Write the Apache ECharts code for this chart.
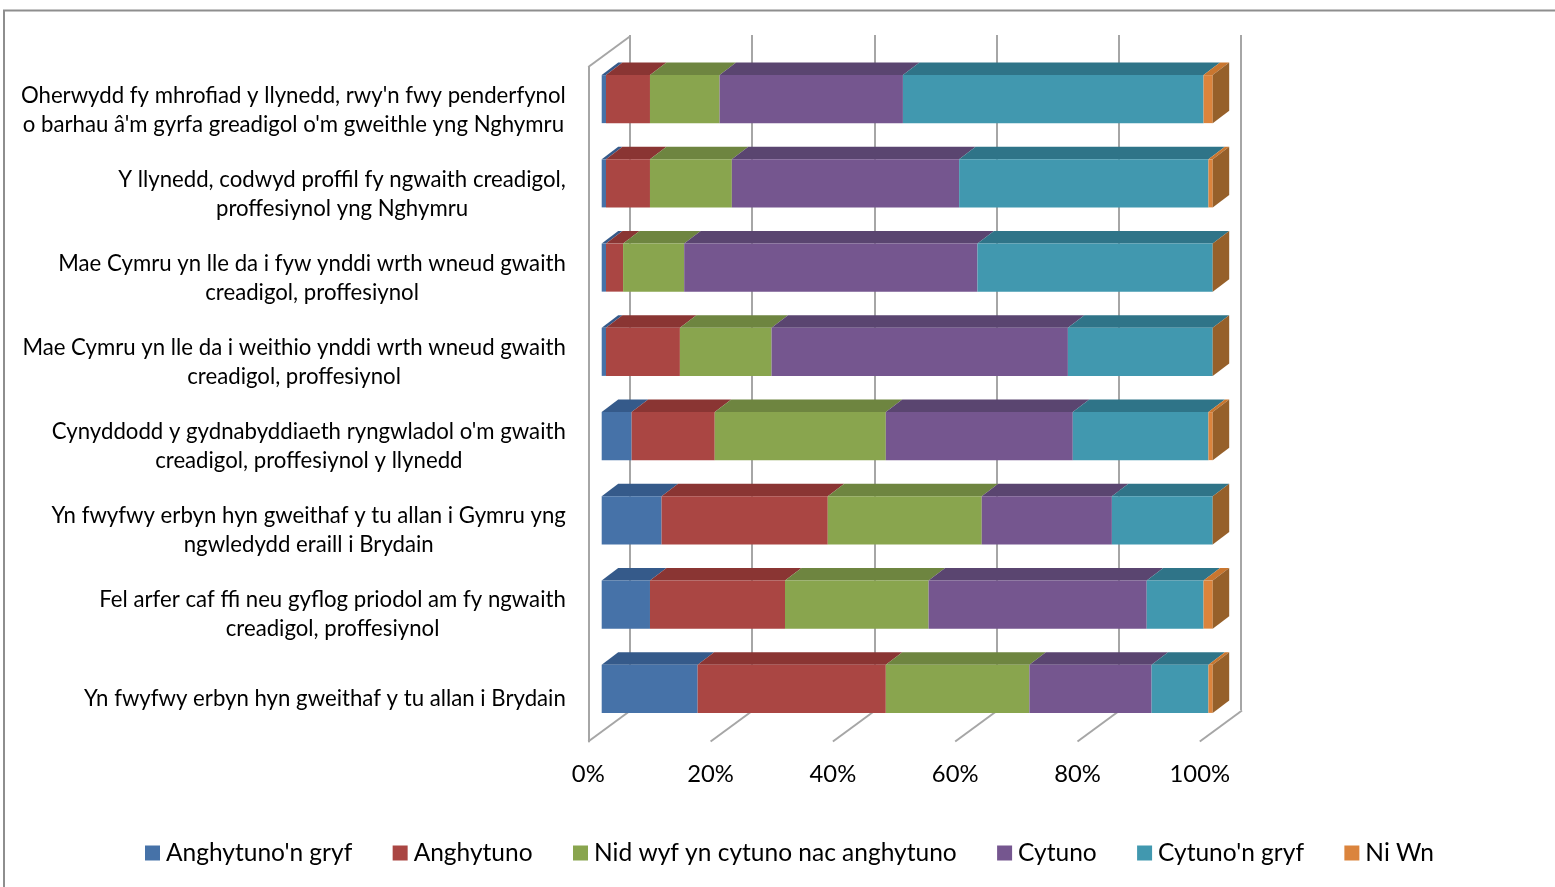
<!DOCTYPE html>
<html>
<head>
<meta charset="utf-8">
<style>html,body{margin:0;padding:0;background:#fff;overflow:hidden}#c{width:1555px;height:887px}</style>
<script src="https://cdn.jsdelivr.net/npm/echarts@6/dist/echarts.min.js"></script>
</head>
<body>
<div id="c"></div>
<script>
const categories = [
  "Oherwydd fy mhrofiad y llynedd, rwy'n fwy penderfynol\no barhau â'm gyrfa greadigol o'm gweithle yng Nghymru",
  "Y llynedd, codwyd proffil fy ngwaith creadigol,\nproffesiynol yng Nghymru",
  "Mae Cymru yn lle da i fyw ynddi wrth wneud gwaith\ncreadigol, proffesiynol",
  "Mae Cymru yn lle da i weithio ynddi wrth wneud gwaith\ncreadigol, proffesiynol",
  "Cynyddodd y gydnabyddiaeth ryngwladol o'm gwaith\ncreadigol, proffesiynol y llynedd",
  "Yn fwyfwy erbyn hyn gweithaf y tu allan i Gymru yng\nngwledydd eraill i Brydain",
  "Fel arfer caf ffi neu gyflog priodol am fy ngwaith\ncreadigol, proffesiynol",
  "Yn fwyfwy erbyn hyn gweithaf y tu allan i Brydain"
];
const seriesNames = ["Anghytuno'n gryf","Anghytuno","Nid wyf yn cytuno nac anghytuno","Cytuno","Cytuno'n gryf","Ni Wn"];
const anghytunoGryf = [0.7, 0.7, 0.7, 0.7, 4.9, 9.8, 7.9, 15.7];
const anghytuno     = [7.2, 7.2, 2.8, 12.1, 13.6, 27.2, 22.1, 30.8];
const niwtral       = [11.4, 13.4, 10.0, 15.0, 28.0, 25.2, 23.5, 23.5];
const cytuno        = [30.0, 37.2, 48.0, 48.5, 30.6, 21.3, 35.7, 20.0];
const cytunoGryf    = [49.2, 40.8, 38.5, 23.7, 22.2, 16.5, 9.3, 9.3];
const niWn          = [1.5, 0.7, 0, 0, 0.7, 0, 1.5, 0.7];
const allValues = [anghytunoGryf, anghytuno, niwtral, cytuno, cytunoGryf, niWn];

const frontColors = ['#4672A8','#AA4643','#89A54E','#75568F','#4198AF','#DB843D'];
const topColors   = ['#355A8A','#8A3533','#6E8540','#5A4570','#2F7488','#C9762F'];
const sideColor = '#96602A';
const wallColor = '#A6A6A6';
const FONT = 'Lato';
const FS_CAT = 22.2, FS_TICK = 23.8, FS_LEGEND = 24.5;
const BAR_DX = 16.5, BAR_DY = 12.5, WALL_DX = 42.2, WALL_DY = 31;

const chart = echarts.init(document.getElementById('c'), null, {renderer:'canvas'});

function barSeries(si) {
  const rows = categories.map((_, i) => {
    let s = 0;
    for (let k = 0; k < si; k++) s += allValues[k][i];
    return [s, s + allValues[si][i], i];
  });
  return {
    type:'custom', name:seriesNames[si], xAxisIndex:1, yAxisIndex:1, z:3+si,
    coordinateSystem:'cartesian2d', clip:false, silent:true,
    itemStyle:{color:frontColors[si]},
    encode:{x:[0,1], y:2}, data:rows,
    renderItem(params, api) {
      const a = api.coord([api.value(0), api.value(2)]);
      const b = api.coord([api.value(1), api.value(2)]);
      const h = api.size([0,1])[1] * 0.57;
      const x0 = a[0], x1 = b[0], yT = a[1]-h/2, yB = a[1]+h/2;
      const kids = [];
      if (x1 > x0) {
        kids.push({type:'polygon', shape:{points:[[x0,yT],[x1,yT],[x1+BAR_DX,yT-BAR_DY],[x0+BAR_DX,yT-BAR_DY]]}, style:{fill:topColors[si]}});
        kids.push({type:'rect', shape:{x:x0,y:yT,width:x1-x0,height:yB-yT}, style:{fill:frontColors[si]}});
      }
      if (si === allValues.length-1) {
        kids.push({type:'polygon', shape:{points:[[x1,yT],[x1+BAR_DX,yT-BAR_DY],[x1+BAR_DX,yB-BAR_DY],[x1,yB]]}, style:{fill:sideColor}});
      }
      return {type:'group', children:kids};
    }
  };
}

const wallTicks = [0,20,40,60,80,100];
const wallSeries = {
  type:'custom', xAxisIndex:2, yAxisIndex:2, z:1, clip:false, silent:true,
  encode:{x:0}, data:wallTicks.map(v=>[v]),
  renderItem(params, api) {
    const last = categories.length-1;
    const p = api.coord([api.value(0), last]);
    const band = api.size([0,1])[1];
    const yB = p[1]+band/2;
    const lineStyle = {stroke:wallColor, lineWidth:2, fill:null};
    const kids = [{type:'line', shape:{x1:p[0],y1:yB,x2:p[0]+WALL_DX,y2:yB-WALL_DY}, style:lineStyle}];
    if (api.value(0) === 0) {
      const q = api.coord([0,0]);
      const yT = q[1]-band/2;
      kids.push({type:'line', shape:{x1:q[0],y1:yT,x2:q[0]+WALL_DX,y2:yT-WALL_DY}, style:lineStyle});
    }
    return {type:'group', children:kids};
  }
};

const hiddenAxis = {axisLine:{show:false},axisTick:{show:false},axisLabel:{show:false},splitLine:{show:false}};

chart.setOption({
  animation:false,
  backgroundColor:'#fff',
  textStyle:{fontFamily:FONT},
  graphic:[{type:'polyline', silent:true, shape:{points:[[4,887],[4,10.5],[1555,10.5]]}, style:{stroke:'#8E8E8E',lineWidth:2,fill:null}}],
  legend:{
    left:145, top:840.5, itemWidth:15, itemHeight:15, itemGap:40.4, padding:0, icon:'rect',
    textStyle:{fontFamily:FONT,fontSize:FS_LEGEND,color:'#000',padding:[1,0,0,1]},
    data:seriesNames
  },
  grid:[
    {left:630, top:35, width:611, height:675},
    {left:601.7, top:57, width:611, height:674},
    {left:588.3, top:67, width:611.5, height:674.5},
    {left:587.8, top:68.6, width:611.7, height:672}
  ],
  xAxis:[
    {type:'value',gridIndex:0,min:0,max:100,interval:20,...hiddenAxis,splitLine:{show:true,lineStyle:{color:wallColor,width:2}}},
    {type:'value',gridIndex:1,min:0,max:100,interval:20,...hiddenAxis},
    {type:'value',gridIndex:2,min:0,max:100,interval:20,...hiddenAxis,
      axisLabel:{show:true,formatter:'{value}%',margin:21,fontFamily:FONT,fontSize:FS_TICK,color:'#000'}},
    {type:'value',gridIndex:3,min:0,max:100,interval:20,...hiddenAxis}
  ],
  yAxis:[
    {type:'category',gridIndex:0,inverse:true,data:categories,...hiddenAxis},
    {type:'category',gridIndex:1,inverse:true,data:categories,...hiddenAxis},
    {type:'category',gridIndex:2,inverse:true,data:categories,...hiddenAxis,
      axisLine:{show:true,lineStyle:{color:wallColor,width:2}}},
    {type:'category',gridIndex:3,inverse:true,data:categories,...hiddenAxis,
      axisLabel:{show:true,margin:22,align:'right',lineHeight:29,fontFamily:FONT,fontSize:FS_CAT,color:'#000',
        formatter:v=>v.split('\n').map(l=>'{a|'+l+'}').join('\n'),
        rich:{a:{align:'center',fontFamily:FONT,fontSize:FS_CAT,lineHeight:29,color:'#000'}}}}
  ],
  series:[wallSeries, ...allValues.map((_,i)=>barSeries(i))]
});
</script>
</body>
</html>
